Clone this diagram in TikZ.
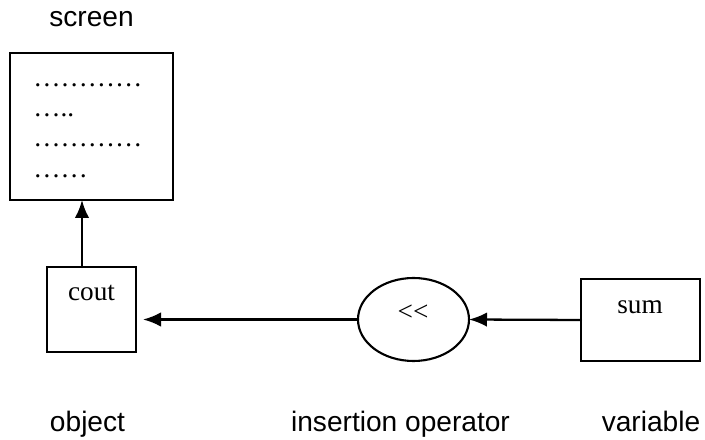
\documentclass[tikz,border=0pt]{standalone}
\usepackage{fontspec}
\setmainfont{Liberation Serif}
\setsansfont{Liberation Sans}
\usetikzlibrary{positioning,arrows.meta,shapes.geometric}

\begin{document}
\begin{tikzpicture}[>=Latex, line cap=round,
  vec/.style={line width=1.3pt, -{Latex[length=3.6mm, width=2.9mm]}},
  box/.style={draw, line width=1.2pt, inner sep=0pt, outer sep=0pt},
  tag/.style={font=\sffamily\fontsize{16pt}{19pt}\selectfont, inner sep=0pt, anchor=base},
  word/.style={font=\fontsize{15.5pt}{17pt}\selectfont, inner sep=0pt, anchor=base}
]
\useasboundingbox (0,0) rectangle (14.1,8.8);

%--- The screen with its printed lines ---
\node[box, minimum width=3.26cm, minimum height=2.94cm] (screen) at (1.83,6.27) {};
\node[tag] (screenTag) at (1.83,8.26) {screen};
\foreach \t/\y [count=\i] in {…………/7.06, …../6.46, …………/5.86, ……/5.24}
  \node[word, anchor=base west] (line\i) at (0.66,\y) {\t};

%--- Object, operator and variable ---
\node[box, minimum width=1.78cm, minimum height=1.70cm] (cout) at (1.83,2.61) {};
\node[word] (coutTxt) at (1.83,2.78) {cout};

\node[box, ellipse, minimum width=2.22cm, minimum height=1.66cm] (op) at (8.27,2.41) {};
\node[word] (opTxt) at (8.26,2.38) {{<}{<}};

\node[box, minimum width=2.38cm, minimum height=1.64cm] (sum) at (12.81,2.40) {};
\node[word] (sumTxt) at (12.80,2.52) {sum};

%--- Flow of the value ---
\draw[vec] (sum.west) -- (op.east);
\draw[vec, shorten >=1.4mm] (op.west) -- (op.west -| cout.east);
\draw[vec] ([xshift=-1.9mm]cout.north) -- ([xshift=-1.9mm]screen.south);

%--- Captions ---
\node[tag] (objTag) at (1.75,0.16) {object};
\node[tag] (opTag) at (8.01,0.16) {insertion operator};
\node[tag] (varTag) at (13.02,0.16) {variable};

\end{tikzpicture}
\end{document}
